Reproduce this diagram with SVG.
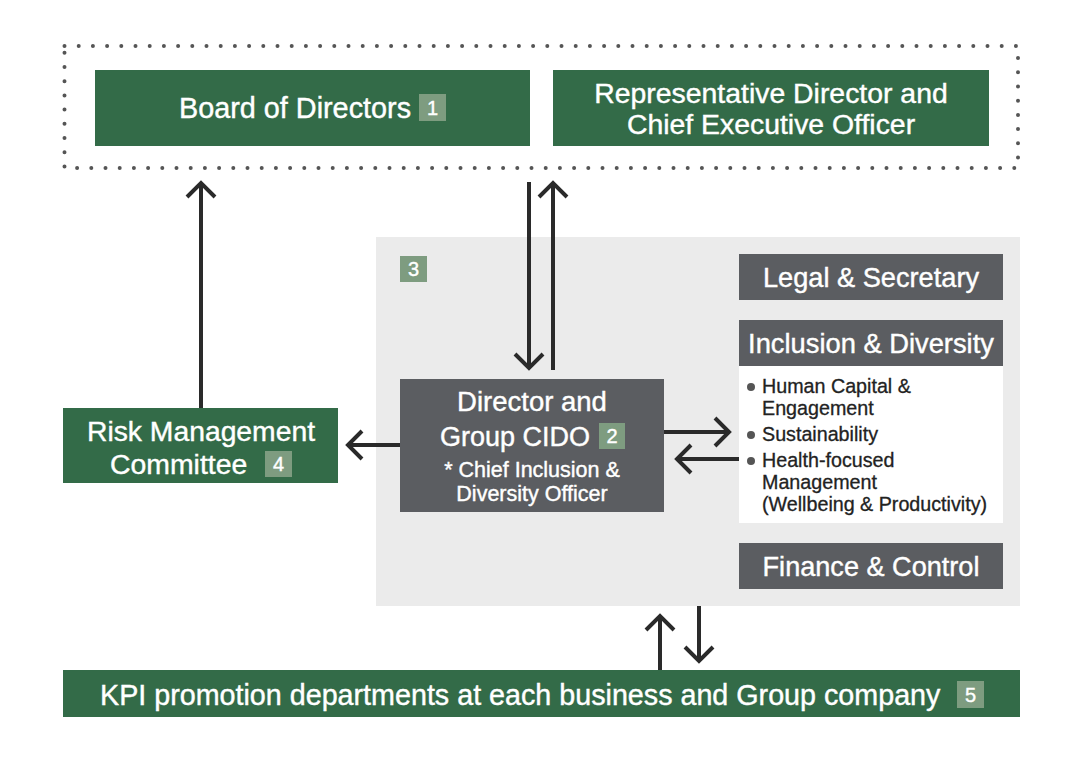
<svg xmlns="http://www.w3.org/2000/svg" width="1084" height="762" viewBox="0 0 1084 762">
<style>
.green{fill:#336b48}
.dark{fill:#5b5d61}
.badge{fill:#7e9c80}
.t{font-family:"Liberation Sans",Arial,sans-serif;fill:#ffffff;stroke:#ffffff;stroke-width:0.4}
.c{text-anchor:middle}
.li{font-family:"Liberation Sans",Arial,sans-serif;fill:#222222;stroke:#222222;stroke-width:0.3;font-size:19.7px}
.bul{fill:#555555}
.conn{stroke:#2a2a2a;stroke-width:4;fill:none}
</style>
<defs>
<marker id="ah" markerUnits="userSpaceOnUse" viewBox="-18 -18 22 36" refX="0" refY="0" markerWidth="22" markerHeight="36" orient="auto">
<path d="M-14,-14 L0,0 L-14,14" fill="none" stroke="#2a2a2a" stroke-width="4"/>
</marker>
</defs>
<rect width="1084" height="762" fill="#ffffff"/>

<rect id="top-frame" x="64.5" y="46" width="953.5" height="122" fill="none" stroke="#555555" stroke-width="4" stroke-linecap="round" stroke-dasharray="0 14.2"/>

<rect id="cido-area" x="376" y="237" width="644" height="369" fill="#ebebeb"/>

<g id="board">
<rect class="green" x="95" y="70" width="435" height="76"/>
<text class="t c" x="295" y="118" font-size="28.8">Board of Directors</text>
<rect class="badge" x="419" y="94" width="27" height="27"/>
<text class="t c" x="432.5" y="115" font-size="20">1</text>
</g>

<g id="ceo">
<rect class="green" x="553" y="70" width="436" height="76"/>
<text class="t c" x="771" y="103" font-size="28.4">Representative Director and</text>
<text class="t c" x="771" y="134" font-size="28.4">Chief Executive Officer</text>
</g>

<g id="badge3">
<rect class="badge" x="400" y="256" width="27" height="26"/>
<text class="t c" x="413.5" y="276" font-size="20">3</text>
</g>

<g id="legal">
<rect class="dark" x="739" y="254" width="264" height="46"/>
<text class="t c" x="871" y="287" font-size="27.2">Legal &amp; Secretary</text>
</g>

<g id="inclusion">
<rect fill="#ffffff" x="739" y="366" width="264" height="157"/>
<rect class="dark" x="739" y="320" width="264" height="46"/>
<text class="t c" x="871" y="353" font-size="27.3">Inclusion &amp; Diversity</text>
<circle class="bul" cx="751" cy="387" r="4"/>
<text class="li" x="762" y="393">Human Capital &amp;</text>
<text class="li" x="762" y="415">Engagement</text>
<circle class="bul" cx="751" cy="435" r="4"/>
<text class="li" x="762" y="441">Sustainability</text>
<circle class="bul" cx="751" cy="461" r="4"/>
<text class="li" x="762" y="467">Health-focused</text>
<text class="li" x="762" y="489">Management</text>
<text class="li" x="762" y="511">(Wellbeing &amp; Productivity)</text>
</g>

<g id="finance">
<rect class="dark" x="739" y="543" width="264" height="46"/>
<text class="t c" x="871" y="576" font-size="27.1">Finance &amp; Control</text>
</g>

<g id="director">
<rect class="dark" x="400" y="379" width="264" height="133"/>
<text class="t c" x="532" y="411" font-size="27.5">Director and</text>
<text class="t" x="440" y="446" font-size="27">Group CIDO</text>
<rect class="badge" x="599" y="423" width="26" height="26"/>
<text class="t c" x="612" y="443" font-size="20">2</text>
<text class="t c" x="532" y="477" font-size="21.5">* Chief Inclusion &amp;</text>
<text class="t c" x="532" y="501" font-size="21.5">Diversity Officer</text>
</g>

<g id="risk">
<rect class="green" x="63" y="408" width="275" height="75"/>
<text class="t c" x="201" y="441" font-size="28.3">Risk Management</text>
<text class="t" x="110" y="474" font-size="28.4">Committee</text>
<rect class="badge" x="265" y="451" width="27" height="26"/>
<text class="t c" x="278.5" y="471" font-size="20">4</text>
</g>

<g id="kpi">
<rect class="green" x="63" y="670" width="957" height="47"/>
<text class="t" x="100" y="705" font-size="28.7">KPI promotion departments at each business and Group company</text>
<rect class="badge" x="957" y="681" width="27" height="27"/>
<text class="t c" x="970.5" y="702" font-size="20">5</text>
</g>

<g id="connectors">
<line class="conn" x1="201" y1="408" x2="201" y2="183" marker-end="url(#ah)"/>
<line class="conn" x1="529" y1="182" x2="529" y2="368" marker-end="url(#ah)"/>
<line class="conn" x1="553" y1="370" x2="553" y2="183" marker-end="url(#ah)"/>
<line class="conn" x1="400" y1="445" x2="348" y2="445" marker-end="url(#ah)"/>
<line class="conn" x1="664" y1="432" x2="729" y2="432" marker-end="url(#ah)"/>
<line class="conn" x1="739" y1="459" x2="677" y2="459" marker-end="url(#ah)"/>
<line class="conn" x1="660" y1="670" x2="660" y2="616" marker-end="url(#ah)"/>
<line class="conn" x1="699" y1="606" x2="699" y2="661" marker-end="url(#ah)"/>
</g>
</svg>
